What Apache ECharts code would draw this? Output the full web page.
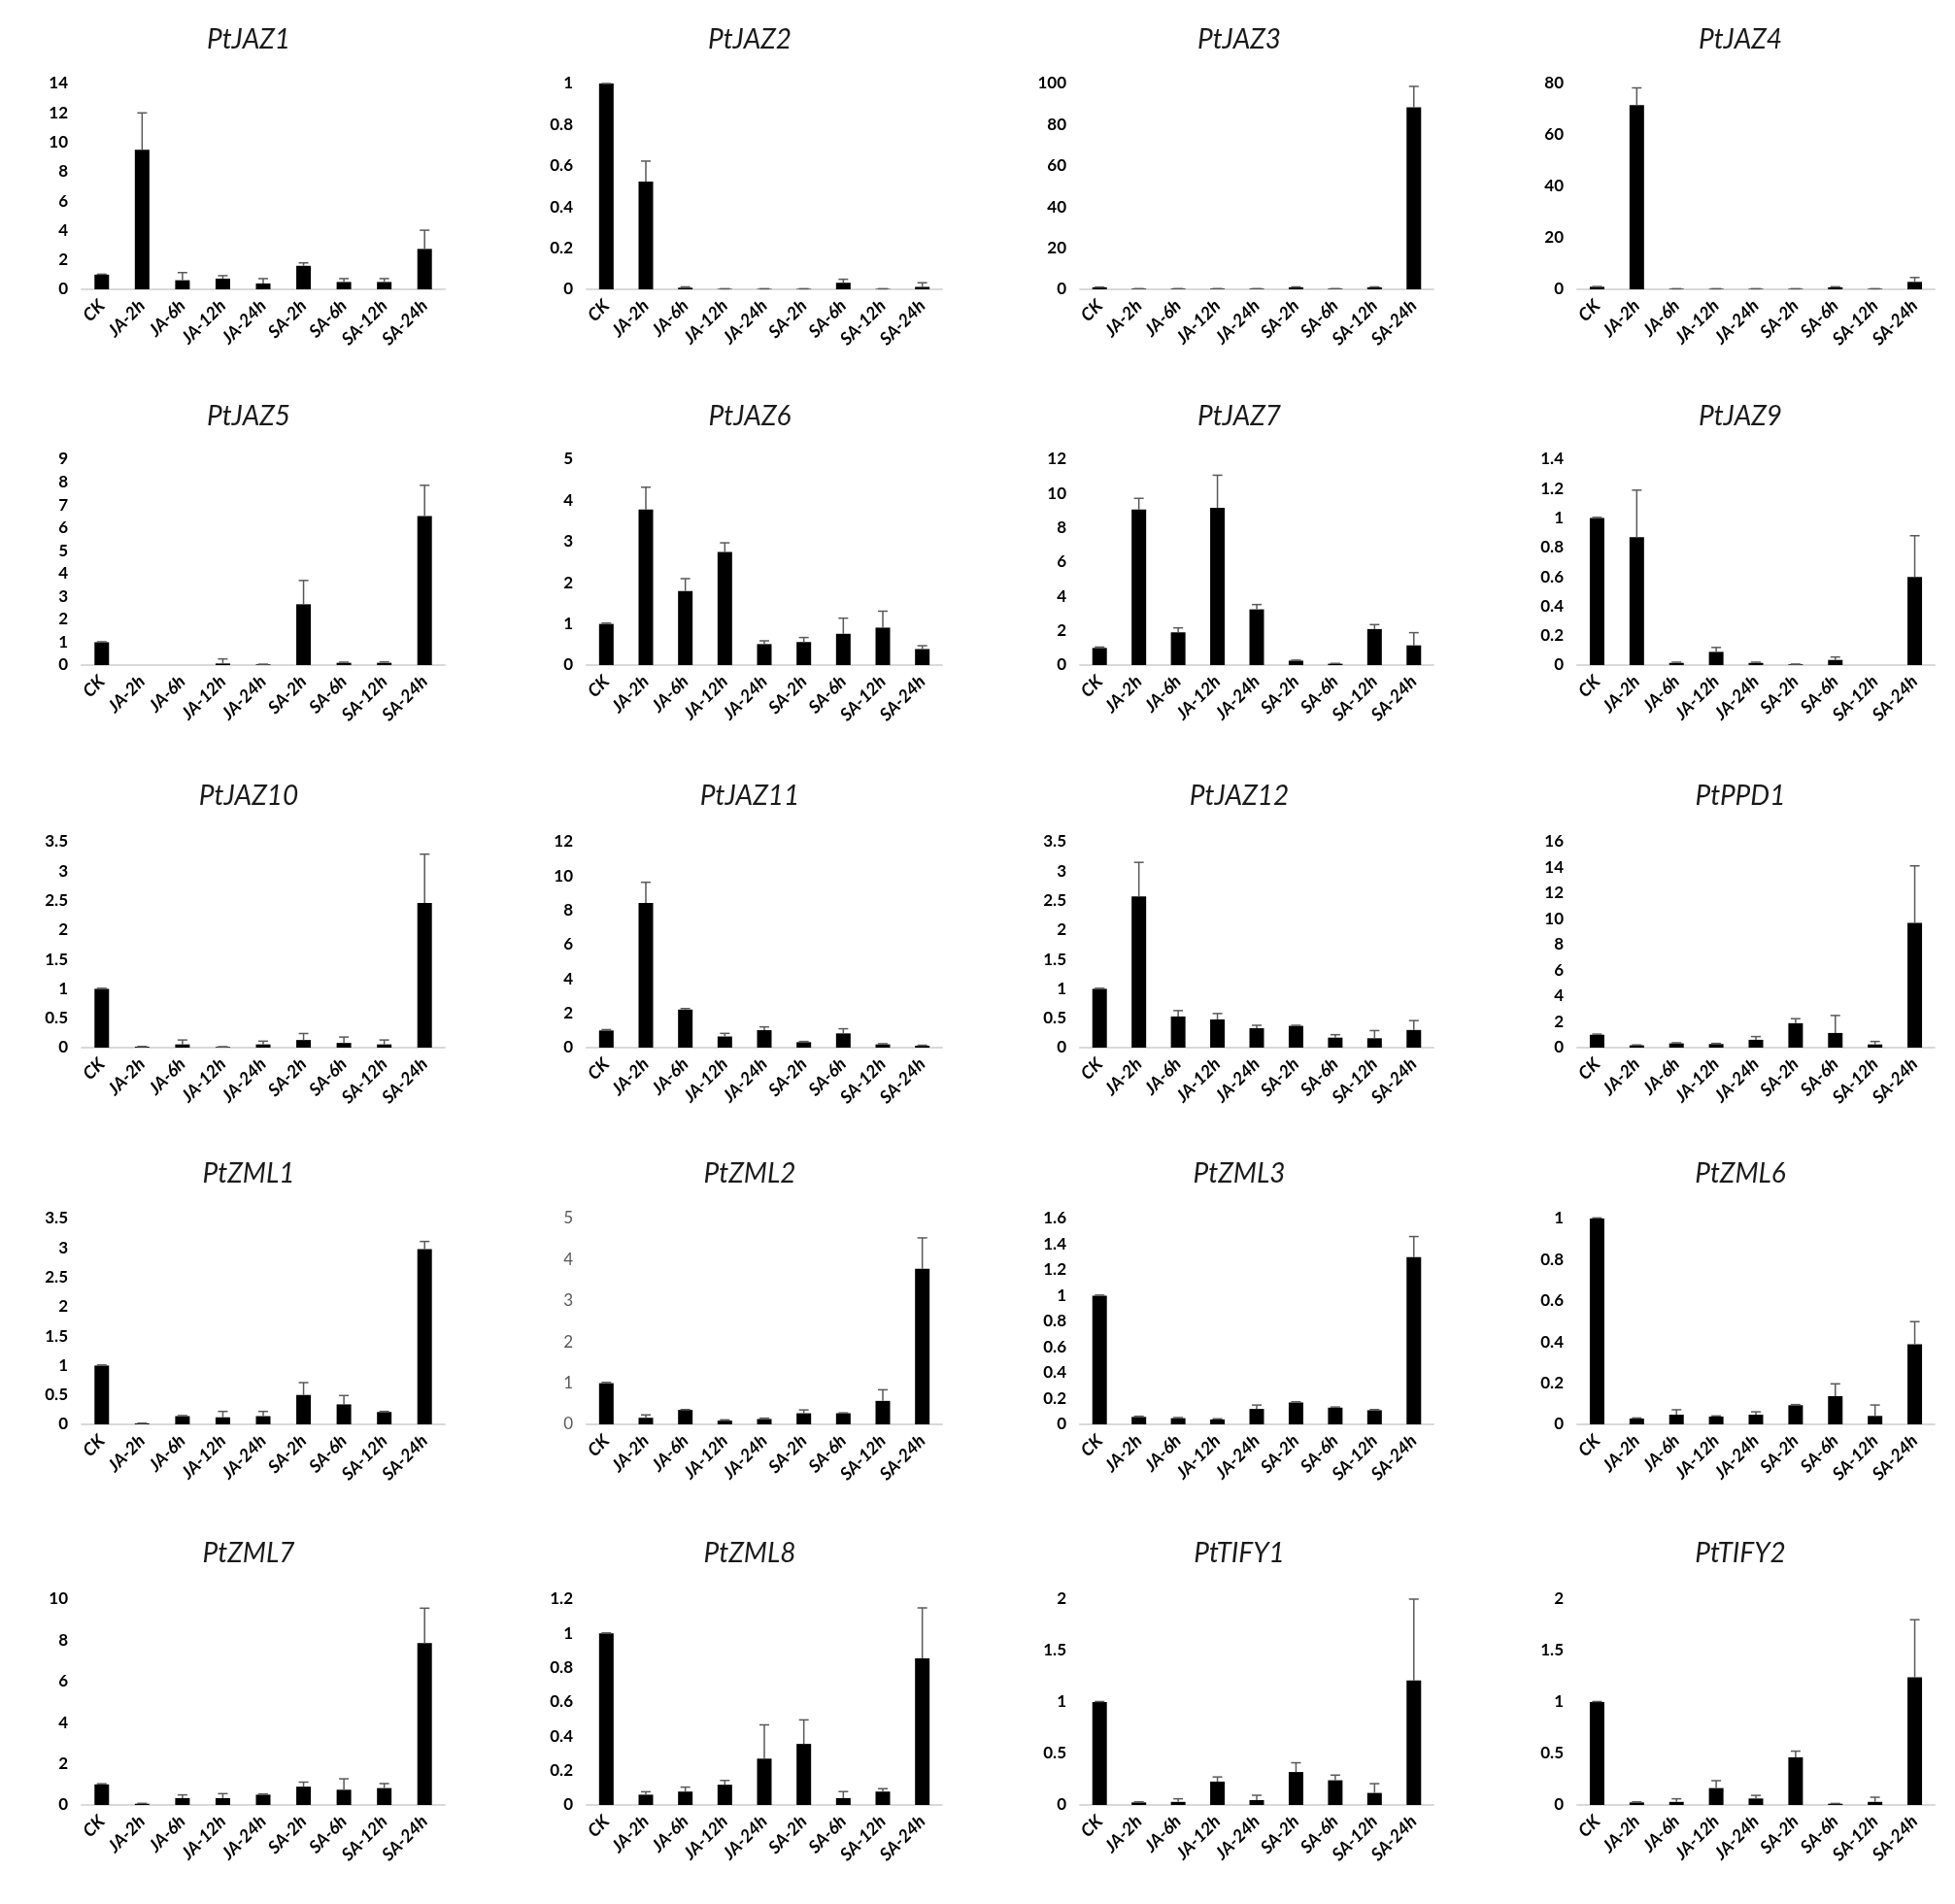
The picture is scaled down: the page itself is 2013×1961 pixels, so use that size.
<!DOCTYPE html>
<html lang="en">
<head>
    <meta charset="UTF-8">
    <title>PtJAZ / PtZML / PtTIFY expression</title>
    <script src="https://cdn.jsdelivr.net/npm/echarts@6/dist/echarts.min.js"></script>
    <style>
        html, body { margin: 0; padding: 0; background: #ffffff; }
        #chart { width: 2013px; height: 1961px; }
    </style>
</head>
<body>
    <div id="chart"></div>

    <script>
        // treatments on every x axis
        const categories = ['CK', 'JA-2h', 'JA-6h', 'JA-12h', 'JA-24h', 'SA-2h', 'SA-6h', 'SA-12h', 'SA-24h'];

        const genes = ['PtJAZ1', 'PtJAZ2', 'PtJAZ3', 'PtJAZ4',
                       'PtJAZ5', 'PtJAZ6', 'PtJAZ7', 'PtJAZ9',
                       'PtJAZ10', 'PtJAZ11', 'PtJAZ12', 'PtPPD1',
                       'PtZML1', 'PtZML2', 'PtZML3', 'PtZML6',
                       'PtZML7', 'PtZML8', 'PtTIFY1', 'PtTIFY2'];

        // relative expression, one row per gene
        const means = [
            [1, 9.5, 0.62, 0.73, 0.4, 1.6, 0.5, 0.5, 2.75],
            [1, 0.523, 0.008, 0.002, 0.002, 0.002, 0.032, 0.002, 0.012],
            [1, 0.3, 0.3, 0.3, 0.3, 1.0, 0.3, 1.0, 88.4],
            [1, 71.6, 0.2, 0.2, 0.2, 0.2, 0.8, 0.2, 2.9],
            [1, 0, 0, 0.07, 0.03, 2.66, 0.1, 0.1, 6.52],
            [1, 3.78, 1.8, 2.75, 0.51, 0.56, 0.76, 0.91, 0.39],
            [1, 9.07, 1.91, 9.17, 3.25, 0.26, 0.08, 2.1, 1.15],
            [1, 0.87, 0.015, 0.09, 0.015, 0.005, 0.035, 0, 0.6],
            [1, 0.015, 0.055, 0.012, 0.055, 0.13, 0.08, 0.055, 2.46],
            [1, 8.43, 2.22, 0.65, 1.02, 0.32, 0.83, 0.19, 0.11],
            [1, 2.57, 0.53, 0.48, 0.33, 0.37, 0.17, 0.16, 0.3],
            [1, 0.18, 0.33, 0.28, 0.61, 1.9, 1.14, 0.25, 9.7],
            [1, 0.015, 0.14, 0.12, 0.14, 0.5, 0.34, 0.21, 2.98],
            [1, 0.16, 0.35, 0.09, 0.13, 0.27, 0.27, 0.57, 3.78],
            [1, 0.058, 0.048, 0.038, 0.12, 0.17, 0.13, 0.11, 1.3],
            [1, 0.028, 0.047, 0.038, 0.047, 0.093, 0.137, 0.041, 0.389],
            [1, 0.06, 0.33, 0.33, 0.5, 0.89, 0.74, 0.82, 7.87],
            [1, 0.06, 0.078, 0.118, 0.27, 0.356, 0.04, 0.078, 0.855],
            [1, 0.025, 0.03, 0.227, 0.047, 0.32, 0.24, 0.117, 1.21],
            [1, 0.025, 0.03, 0.164, 0.063, 0.463, 0.012, 0.03, 1.24]
        ];

        // upper error (SD)
        const errors = [
            [0.03, 2.5, 0.52, 0.2, 0.33, 0.2, 0.23, 0.23, 1.27],
            [0, 0.1, 0.004, 0.001, 0.001, 0.001, 0.017, 0.001, 0.02],
            [0.1, 0.05, 0.05, 0.05, 0.05, 0.2, 0.05, 0.2, 10.2],
            [0.1, 6.7, 0.05, 0.05, 0.05, 0.05, 0.2, 0.05, 1.7],
            [0.02, 0, 0, 0.2, 0.01, 1.04, 0.03, 0.04, 1.34],
            [0.02, 0.54, 0.3, 0.22, 0.08, 0.11, 0.38, 0.4, 0.08],
            [0.05, 0.65, 0.26, 1.9, 0.28, 0.03, 0.02, 0.26, 0.74],
            [0.005, 0.32, 0.005, 0.03, 0.005, 0.002, 0.02, 0, 0.28],
            [0.01, 0.005, 0.075, 0.005, 0.055, 0.11, 0.1, 0.075, 0.83],
            [0.05, 1.21, 0.06, 0.18, 0.19, 0.04, 0.27, 0.04, 0.03],
            [0.01, 0.58, 0.1, 0.1, 0.05, 0.01, 0.05, 0.13, 0.16],
            [0.05, 0.03, 0.05, 0.05, 0.25, 0.35, 1.36, 0.23, 4.43],
            [0.01, 0.005, 0.01, 0.1, 0.08, 0.21, 0.15, 0.01, 0.13],
            [0.02, 0.07, 0.01, 0.02, 0.02, 0.08, 0.01, 0.27, 0.75],
            [0.005, 0.005, 0.005, 0.005, 0.03, 0.005, 0.005, 0.005, 0.16],
            [0.003, 0.003, 0.024, 0.003, 0.014, 0.003, 0.06, 0.053, 0.11],
            [0.03, 0.02, 0.16, 0.22, 0.03, 0.22, 0.53, 0.22, 1.69],
            [0.003, 0.017, 0.026, 0.025, 0.197, 0.14, 0.038, 0.017, 0.294],
            [0.005, 0.005, 0.03, 0.045, 0.047, 0.09, 0.05, 0.09, 0.79],
            [0.005, 0.005, 0.03, 0.072, 0.03, 0.06, 0.003, 0.045, 0.56]
        ];

        // y axis range per gene
        const yMax  = [14, 1, 100, 80, 9, 5, 12, 1.4, 3.5, 12, 3.5, 16, 3.5, 5, 1.6, 1, 10, 1.2, 2, 2];
        const yStep = [2, 0.2, 20, 20, 1, 1, 2, 0.2, 0.5, 2, 0.5, 2, 0.5, 1, 0.2, 0.2, 2, 0.2, 0.5, 0.5];

        // panels whose tick labels are plain grey instead of bold black
        const greyTickGenes = ['PtZML2'];

        // layout of the 4 x 5 panel grid (pixels)
        const colLeft  = [84, 604, 1112, 1624];
        const colWidth = [374, 366, 364, 368];
        const rowTop   = [86, 473, 867, 1255, 1647];
        const plotH    = 212;
        const titleX   = [256, 772, 1276, 1792];
        const titleY   = [43, 431, 822, 1211, 1602];

        const font = 'Lato, "Open Sans", sans-serif';

        function renderErrorBar(params, api) {
            const idx = api.value(0);
            const mean = api.value(1);
            const err = api.value(2);
            if (!mean && !err) return null;
            const base = api.coord([idx, mean]);
            const top = api.coord([idx, mean + err]);
            const half = 5;
            const style = { stroke: '#595959', lineWidth: 1.5 };
            return {
                type: 'group',
                children: [
                    { type: 'line', shape: { x1: base[0], y1: base[1], x2: top[0], y2: top[1] }, style: style },
                    { type: 'line', shape: { x1: top[0] - half, y1: top[1], x2: top[0] + half, y2: top[1] }, style: style }
                ]
            };
        }

        const chart = echarts.init(document.getElementById('chart'));

        const title = [], grid = [], xAxis = [], yAxis = [], series = [];

        genes.forEach((name, i) => {
            const r = Math.floor(i / 4);
            const c = i % 4;
            const grey = greyTickGenes.includes(name);

            title.push({
                text: name,
                left: titleX[c],
                top: titleY[r] - 16,
                textAlign: 'center',
                padding: 0,
                textStyle: {
                    fontFamily: font,
                    fontSize: 28,
                    fontStyle: 'italic',
                    fontWeight: 'normal',
                    color: '#1a1a1a'
                }
            });

            grid.push({ left: colLeft[c], top: rowTop[r], width: colWidth[c], height: plotH });

            xAxis.push({
                type: 'category',
                gridIndex: i,
                data: categories,
                axisLine: { lineStyle: { color: '#d9d9d9', width: 2 } },
                axisTick: { show: false },
                axisLabel: {
                    interval: 0,
                    rotate: 45,
                    margin: 14,
                    fontFamily: font,
                    fontSize: 18,
                    fontWeight: 'bold',
                    fontStyle: 'italic',
                    color: '#000000'
                }
            });

            yAxis.push({
                type: 'value',
                gridIndex: i,
                min: 0,
                max: yMax[i],
                interval: yStep[i],
                axisLine: { show: false },
                axisTick: { show: false },
                splitLine: { show: false },
                axisLabel: {
                    margin: 14,
                    fontFamily: font,
                    fontSize: 17,
                    fontWeight: grey ? 'normal' : 'bold',
                    color: grey ? '#595959' : '#000000'
                }
            });

            series.push({
                type: 'bar',
                xAxisIndex: i,
                yAxisIndex: i,
                data: means[i],
                barWidth: 15,
                silent: true,
                itemStyle: { color: '#000000' }
            });

            series.push({
                type: 'custom',
                xAxisIndex: i,
                yAxisIndex: i,
                silent: true,
                z: 3,
                data: means[i].map((m, k) => [k, m, errors[i][k]]),
                renderItem: renderErrorBar
            });
        });

        chart.setOption({
            backgroundColor: '#ffffff',
            animation: false,
            title: title,
            grid: grid,
            xAxis: xAxis,
            yAxis: yAxis,
            series: series
        });
    </script>
</body>
</html>
